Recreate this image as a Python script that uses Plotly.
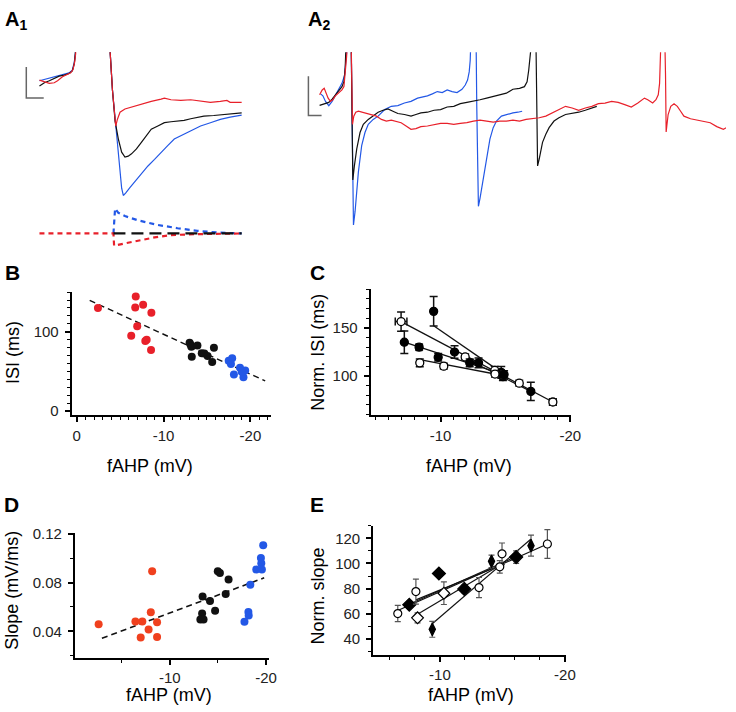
import plotly.graph_objects as go

W, H = 736, 712
FONT = "Liberation Sans, Arial, Helvetica, sans-serif"
RED, BLUE, BLACK = "#e8202a", "#2358e6", "#111111"
RED_D = "#f0401e"

# ---------------- Panel A1 traces (time ms, Vm mV) ----------------
a1_red_t = [12.0, 13.5, 15.0, 16.5, 17.5, 19.0, 20.5, 21.5, 22.2, 22.7, 23.0, 23.2, 30.0, 33.5, 34.2, 34.8, 35.2, 35.7, 36.5, 38.0, 40.0, 43.0, 46.0, 49.0, 50.0, 52.0, 55.0, 58.0, 61.0, 64.0, 67.0, 69.0, 70.0, 73.5]
a1_red_v = [-22.0, -22.6, -23.0, -22.8, -22.2, -21.0, -20.3, -19.8, -18.8, -16.5, -14.0, -10.0, -5.0, -13.5, -25.0, -33.0, -36.0, -34.0, -31.8, -30.8, -30.2, -29.5, -28.5, -27.8, -27.5, -28.0, -28.2, -28.0, -28.5, -28.8, -28.5, -28.2, -28.8, -28.8]
a1_blk_t = [12.0, 13.5, 15.0, 16.5, 18.0, 19.5, 21.0, 22.0, 22.6, 22.9, 23.1, 30.0, 33.5, 34.2, 35.0, 36.0, 37.0, 38.0, 39.0, 40.0, 41.5, 43.0, 44.5, 46.0, 48.0, 50.0, 52.0, 54.0, 56.0, 58.0, 60.0, 62.0, 65.0, 68.0, 71.0, 73.5]
a1_blk_v = [-23.8, -22.8, -22.2, -21.5, -20.8, -20.5, -20.0, -19.2, -17.0, -14.0, -10.0, -5.0, -13.5, -25.0, -34.5, -40.0, -44.0, -45.5, -45.2, -44.5, -43.0, -41.0, -39.0, -37.0, -36.0, -35.0, -34.7, -34.5, -34.3, -33.8, -33.5, -33.0, -32.8, -32.5, -32.2, -32.0]
a1_blu_t = [12.0, 13.5, 15.0, 16.5, 18.0, 19.5, 21.0, 22.0, 22.6, 22.9, 23.1, 30.0, 33.5, 34.2, 35.0, 35.8, 36.5, 37.0, 37.5, 38.2, 39.5, 41.0, 43.0, 45.0, 47.0, 49.0, 51.0, 53.0, 55.0, 58.0, 61.0, 64.0, 67.0, 70.0, 73.5]
a1_blu_v = [-22.2, -21.8, -21.5, -21.2, -20.6, -20.3, -19.8, -19.0, -16.5, -14.0, -10.0, -5.0, -13.5, -25.0, -34.0, -42.0, -50.0, -55.0, -57.2, -56.5, -54.8, -53.0, -50.5, -48.2, -46.2, -44.0, -42.0, -40.0, -39.0, -37.5, -36.0, -35.0, -34.0, -33.3, -32.7]
# modelled fAHP conductance changes (dashed)
a1_dred_t = [12.0, 34.5, 34.7, 38.0, 42.0, 47.0, 52.0, 60.0, 73.5]
a1_dred_v = [-68.8, -68.8, -72.5, -71.8, -71.0, -70.0, -69.3, -69.0, -68.8]
a1_dblu_t = [34.5, 35.0, 36.0, 38.0, 42.0, 48.0, 54.0, 60.0, 66.0, 73.5]
a1_dblu_v = [-68.8, -61.2, -62.5, -63.5, -64.8, -66.2, -67.2, -68.0, -68.5, -68.8]
a1_dblk_t = [34.5, 73.5]
a1_dblk_v = [-68.8, -68.8]
a1_bar_t = [8.0, 8.0, 13.3]
a1_bar_v = [-18.0, -27.5, -27.5]

# ---------------- Panel A2 traces ----------------
a2_blu_t = [7.5, 8.2, 9.0, 10.0, 11.0, 12.0, 13.0, 14.0, 14.8, 15.2, 15.4, 16.2, 16.8, 17.0, 17.3, 17.5, 18.0, 19.0, 20.0, 21.0, 22.0, 23.5, 25.0, 27.0, 29.0, 31.0, 33.0, 35.0, 37.0, 38.5, 40.0, 41.5, 43.0, 44.5, 46.0, 47.5, 49.0, 50.5, 51.5, 52.2, 52.7, 53.0, 53.2, 54.0, 54.8, 55.0, 55.3, 55.5, 56.0, 57.0, 58.0, 59.0, 60.0, 61.0, 62.5, 64.0, 66.0, 67.5, 68.8]
a2_blu_v = [-26.2, -26.8, -28.5, -29.8, -28.5, -26.5, -25.0, -23.0, -20.5, -16.0, -10.0, -5.0, -10.0, -30.0, -50.0, -66.2, -62.0, -50.0, -42.0, -38.0, -35.5, -34.0, -33.0, -31.0, -30.0, -29.8, -29.0, -28.5, -27.5, -27.2, -26.8, -26.2, -25.5, -25.8, -25.0, -25.5, -25.8, -24.8, -23.5, -22.0, -19.5, -16.0, -10.0, -5.0, -10.0, -30.0, -50.0, -60.5, -58.0, -52.0, -45.0, -40.0, -36.5, -34.5, -33.0, -32.5, -32.0, -31.8, -31.5]
a2_blk_t = [7.2, 8.0, 9.0, 10.0, 11.0, 12.0, 13.0, 14.0, 14.6, 15.0, 15.2, 16.0, 16.8, 17.0, 17.3, 17.8, 18.5, 19.5, 20.5, 22.0, 23.5, 25.0, 26.5, 28.0, 29.5, 31.0, 33.0, 35.0, 36.5, 38.0, 40.0, 42.0, 44.0, 46.0, 48.0, 50.0, 52.0, 54.0, 56.0, 58.0, 60.0, 62.0, 64.0, 66.0, 68.0, 69.5, 70.3, 70.8, 71.2, 71.5, 72.2, 73.0, 73.2, 73.5, 74.0, 75.0, 76.0, 77.0, 78.5, 80.0, 82.0, 84.0, 86.0, 88.0, 90.0, 91.5]
a2_blk_v = [-29.7, -29.5, -29.2, -28.8, -27.8, -26.5, -25.5, -24.0, -22.5, -18.0, -12.0, -5.0, -10.0, -30.0, -52.5, -48.0, -43.0, -38.0, -35.5, -34.0, -32.8, -31.8, -31.2, -30.8, -31.5, -32.2, -32.5, -33.0, -32.5, -32.0, -31.8, -31.2, -31.0, -30.2, -30.0, -29.2, -28.8, -28.5, -28.0, -27.5, -27.0, -26.5, -26.0, -24.8, -24.5, -24.0, -22.5, -19.0, -14.0, -10.0, -5.0, -10.0, -30.0, -48.2, -46.0, -41.0, -38.5, -36.5, -34.5, -33.5, -32.5, -32.2, -31.8, -31.2, -30.5, -30.0]
a2_red_t = [7.2, 8.0, 8.6, 9.2, 9.8, 10.5, 11.2, 12.0, 13.0, 14.0, 14.6, 15.0, 15.4, 15.7, 16.3, 16.8, 17.0, 17.2, 17.6, 18.2, 19.0, 20.0, 21.5, 23.0, 24.5, 26.0, 27.5, 29.0, 30.5, 32.0, 33.5, 35.0, 36.5, 38.0, 40.0, 42.0, 44.0, 46.0, 48.0, 50.0, 52.0, 54.0, 56.0, 58.0, 60.0, 62.0, 64.0, 66.0, 68.0, 70.0, 72.0, 74.0, 76.0, 78.0, 80.0, 82.0, 84.0, 86.0, 88.0, 90.0, 92.0, 94.0, 96.0, 98.0, 100.0, 102.0, 104.0, 106.0, 107.0, 108.5, 109.5, 110.2, 110.6, 110.8, 111.0, 111.6, 112.2, 112.4, 112.6, 112.8, 113.2, 114.0, 115.0, 116.0, 117.0, 118.0, 120.0, 122.0, 124.0, 126.0, 128.0, 130.0, 131.0]
a2_red_v = [-26.5, -25.0, -24.5, -26.0, -27.5, -28.5, -28.0, -26.8, -25.8, -25.0, -24.0, -20.5, -15.0, -10.0, -5.0, -10.0, -25.0, -35.5, -33.0, -31.8, -31.5, -31.8, -32.2, -32.5, -33.0, -34.0, -34.5, -34.2, -34.5, -35.0, -36.0, -37.0, -36.8, -36.2, -36.0, -35.5, -35.2, -35.2, -35.5, -35.2, -35.0, -34.5, -34.2, -34.5, -34.8, -34.5, -34.5, -34.2, -34.5, -34.0, -33.8, -33.5, -33.0, -32.0, -30.8, -30.0, -30.5, -31.2, -30.5, -30.0, -29.2, -29.0, -28.5, -28.8, -29.5, -30.2, -29.0, -27.5, -28.0, -29.0, -28.0, -26.5, -23.0, -14.0, -10.0, -5.0, -10.0, -20.0, -37.8, -36.0, -32.5, -30.0, -29.2, -30.0, -31.5, -33.0, -33.8, -34.2, -34.5, -35.0, -36.2, -37.0, -36.5]
a2_bar_t = [3.8, 3.8, 7.8]
a2_bar_v = [-20.8, -32.8, -32.8]

# ---------------- Panel B: ISI vs fAHP ----------------
b_red_x = [-2.45, -6.8, -6.74, -7.65, -8.6, -6.97, -6.28, -7.9, -8.06, -8.56]
b_red_y = [130, 144.6, 130.5, 134, 124, 107, 95, 88.4, 90, 77]
b_blk_x = [-13.0, -13.1, -13.2, -13.9, -13.25, -14.4, -14.7, -15.07, -15.8, -15.6]
b_blk_y = [86, 84, 81, 82.6, 68.5, 73, 72.7, 69.4, 80, 62]
b_blu_x = [-17.5, -17.9, -17.76, -18.1, -18.8, -19.4, -19.2, -19.0]
b_blu_y = [63.6, 66.5, 59.5, 46, 54.5, 51, 42.5, 49.5]
b_fit_x = [-1.5, -21.7]
b_fit_y = [139.6, 38.0]

# ---------------- Panel D: slope vs fAHP ----------------
d_red_x = [-2.6, -6.42, -7.14, -8.02, -8.67, -7.79, -6.97, -8.67, -8.16]
d_red_y = [0.0458, 0.0482, 0.0482, 0.0557, 0.0475, 0.0416, 0.035, 0.0355, 0.0893]
d_blk_x = [-13.4, -14.17, -13.35, -13.17, -13.5, -14.7, -14.98, -15.2, -16.1, -15.8]
d_blk_y = [0.0686, 0.0648, 0.0547, 0.0498, 0.0498, 0.0568, 0.0893, 0.0877, 0.0824, 0.0707]
d_blu_x = [-19.7, -19.46, -19.5, -18.98, -19.56, -18.36, -18.16, -18.19, -17.75]
d_blu_y = [0.1104, 0.100, 0.0958, 0.0906, 0.0906, 0.0782, 0.0558, 0.053, 0.0478]
d_fit_x = [-2.94, -19.8]
d_fit_y = [0.0344, 0.0838]

# ---------------- Panel C: normalised ISI, per cell ----------------
c_cells = [
    dict(x=[-6.96, -11.9, -14.18, -16.07, -18.66], y=[156.4, 119.7, 105.7, 92.5, 73.0],
         ey=[10, 3, 4, 3, 3], ex=[0.45, 0, 0, 0, 0.25], fx=[-6.96, -18.66], fy=[156.4, 73.0],
         sym="circle-open"),
    dict(x=[-9.47, -14.68], y=[167.0, 103.7], ey=[15.3, 6], ex=[0, 0],
         fx=[-9.47, -14.68], fy=[152.0, 103.7], sym="circle"),
    dict(x=[-7.21, -8.35, -9.82, -12.93, -14.81], y=[135.0, 129.9, 119.4, 113.6, 99.3],
         ey=[11.6, 3, 4, 5, 4], ex=[0, 0.2, 0, 0, 0], fx=[-7.21, -14.6], fy=[135.0, 102.6], sym="circle"),
    dict(x=[-8.4, -10.25, -14.2], y=[113.6, 110.2, 102.0], ey=[4, 3, 3], ex=[0, 0, 0],
         fx=[-8.4, -14.6], fy=[117.0, 101.0], sym="circle-open"),
    dict(x=[-11.08, -12.25, -14.9, -16.96], y=[124.8, 113.6, 101.5, 84.0], ey=[6.5, 4, 4, 9.4],
         ex=[0, 0, 0, 0], fx=[-12.25, -16.96], fy=[116.0, 84.0], sym="circle"),
]

# ---------------- Panel E: normalised slope, per cell ----------------
e_cells = [
    dict(x=[-6.63, -13.13, -14.97, -18.6], y=[60.1, 80.8, 107.7, 115.5], ey=[6.5, 8, 8.6, 11.5],
         fx=[-6.63, -18.6], fy=[62.5, 115.5], sym="circle-open", size=8),
    dict(x=[-7.55, -9.92, -11.95, -16.1], y=[67.1, 92.0, 79.7, 105.1], ey=[2, 2, 3, 5],
         fx=[-7.55, -16.1], fy=[67.5, 105.5], sym="diamond", size=10),
    dict(x=[-8.08, -14.79], y=[77.6, 97.3], ey=[10, 5],
         fx=[-8.08, -14.7], fy=[71.0, 98.0], sym="circle-open", size=8),
    dict(x=[-8.21, -10.32], y=[56.7, 76.3], ey=[4, 9],
         fx=[-8.21, -14.7], fy=[59.5, 98.0], sym="diamond-open", size=9),
    dict(x=[-9.39, -14.13, -17.29], y=[47.5, 101.7, 114.2], ey=[6.3, 5, 8.4],
         fx=[-9.39, -17.29], fy=[52.0, 119.5], sym="diamond-tall", size=9),
]


def dom_x(a, b):
    return [a / W, b / W]


def dom_y(top, bottom):
    return [1 - bottom / H, 1 - top / H]


fig = go.Figure()


def line(t, v, color, ax, width=1.2, dash=None):
    fig.add_trace(go.Scatter(x=t, y=v, mode="lines", xaxis="x" + ax, yaxis="y" + ax,
                             line=dict(color=color, width=width, dash=dash),
                             hoverinfo="skip", showlegend=False))


# A1
line(a1_bar_t, a1_bar_v, "#666666", "", 1.5)
line(a1_blu_t, a1_blu_v, BLUE, "")
line(a1_blk_t, a1_blk_v, BLACK, "")
line(a1_red_t, a1_red_v, RED, "")
line(a1_dblu_t, a1_dblu_v, BLUE, "", 2.2, "5px,4px")
line(a1_dred_t, a1_dred_v, RED, "", 2.2, "5px,4px")
line(a1_dblk_t, a1_dblk_v, BLACK, "", 2.2, "12px,6px")
# A2
line(a2_bar_t, a2_bar_v, "#666666", "2", 1.5)
line(a2_blu_t, a2_blu_v, BLUE, "2")
line(a2_blk_t, a2_blk_v, BLACK, "2")
line(a2_red_t, a2_red_v, RED, "2")


def dots(x, y, color, ax):
    fig.add_trace(go.Scatter(x=x, y=y, mode="markers", xaxis="x" + ax, yaxis="y" + ax,
                             marker=dict(color=color, size=8, line=dict(width=0)),
                             hoverinfo="skip", showlegend=False, cliponaxis=False))


# B
line(b_fit_x, b_fit_y, BLACK, "3", 1.4, "6px,4px")
dots(b_red_x, b_red_y, RED, "3")
dots(b_blk_x, b_blk_y, BLACK, "3")
dots(b_blu_x, b_blu_y, BLUE, "3")
# D
line(d_fit_x, d_fit_y, BLACK, "5", 1.6, "6px,4px")
dots(d_red_x, d_red_y, RED_D, "5")
dots(d_blk_x, d_blk_y, BLACK, "5")
dots(d_blu_x, d_blu_y, BLUE, "5")

# C
for c in c_cells:
    line(c["fx"], c["fy"], BLACK, "4", 1.3)
for c in c_cells:
    openm = "open" in c["sym"]
    fig.add_trace(go.Scatter(
        x=c["x"], y=c["y"], mode="markers", xaxis="x4", yaxis="y4",
        error_y=dict(type="data", array=c["ey"], color=BLACK, thickness=1.5, width=4),
        error_x=dict(type="data", array=c["ex"], color=BLACK, thickness=1.5, width=4),
        marker=dict(symbol=c["sym"].replace("-open", ""), size=8,
                    color="white" if openm else "black",
                    line=dict(color="black", width=1.3)),
        hoverinfo="skip", showlegend=False))
# E
for c in e_cells:
    line(c["fx"], c["fy"], BLACK, "6", 1.2)
for c in e_cells:
    openm = "open" in c["sym"]
    fig.add_trace(go.Scatter(
        x=c["x"], y=c["y"], mode="markers", xaxis="x6", yaxis="y6",
        error_y=dict(type="data", array=c["ey"], color="#555555", thickness=1.2, width=3),
        marker=dict(symbol=c["sym"].replace("-open", ""), size=c["size"],
                    color="white" if openm else "black",
                    line=dict(color="black", width=1.2)),
        hoverinfo="skip", showlegend=False))

hidden = dict(visible=False, fixedrange=True)
tickfont = dict(family=FONT, size=15, color="#222222")


def sci_axis(domain, rng, tickvals, minor_dtick, anchor, standoff=0):
    return dict(domain=domain, range=rng, showline=True, linewidth=2, linecolor="black",
                ticks="outside", ticklen=5, tickwidth=1.5, tickcolor="black",
                tickmode="array", tickvals=tickvals, ticktext=[("%g" % v) for v in tickvals],
                tickfont=tickfont,
                minor=dict(ticks="outside", ticklen=3, tickwidth=1.2, tickcolor="black",
                           dtick=minor_dtick, tick0=0, showgrid=False),
                showgrid=False, zeroline=False, anchor=anchor, ticklabelstandoff=standoff,
                fixedrange=True)


fig.update_layout(
    width=W, height=H, margin=dict(l=0, r=0, t=0, b=0),
    paper_bgcolor="white", plot_bgcolor="rgba(0,0,0,0)",
    font=dict(family=FONT, color="black"),
    xaxis=dict(domain=dom_x(0, 250), range=[0, 75], anchor="y", **hidden),
    yaxis=dict(domain=dom_y(45, 250), range=[-75, -13.5], anchor="x", **hidden),
    xaxis2=dict(domain=dom_x(300, 736), range=[0, 130.8], anchor="y2", **hidden),
    yaxis2=dict(domain=dom_y(45, 250), range=[-75, -13.5], anchor="x2", **hidden),
    xaxis3=sci_axis(dom_x(72.7, 275), [0.57, -22.4], [0, -10, -20], 1, "y3", 1),
    yaxis3=sci_axis(dom_y(289, 414), [-5, 150], [0, 100], 10, "x3", 3),
    xaxis4=sci_axis(dom_x(375.7, 578.5), [-4.61, -20.03], [-10, -20], 1, "y4", 1),
    yaxis4=sci_axis(dom_y(286, 414), [59.5, 190], [100, 150], 10, "x4", 3),
    xaxis5=sci_axis(dom_x(76, 272.7), [-0.14, -20.3], [-10, -20], 5, "y5", 0),
    yaxis5=sci_axis(dom_y(534, 660.7), [0.0186, 0.1205], [0.04, 0.08, 0.12], 0.02, "x5", 3),
    xaxis6=sci_axis(dom_x(378.3, 573.3), [-4.66, -20.05], [-10, -20], 2, "y6", 0),
    yaxis6=sci_axis(dom_y(526.7, 658.3), [26.9, 130], [40, 60, 80, 100, 120], 10, "x6", 3),
)
fig.layout.yaxis5.ticktext = ["0.04", "0.08", "0.12"]


def note(text, x, y, size=17, angle=0, bold=False, xanchor="center", yanchor="middle"):
    fig.add_annotation(text=("<b>%s</b>" % text) if bold else text, x=x / W, y=1 - y / H,
                       xref="paper", yref="paper", showarrow=False, textangle=angle,
                       xanchor=xanchor, yanchor=yanchor,
                       font=dict(family=FONT, size=size, color="black"))


# panel letters
note("A<sub>1</sub>", 3, 13, 20, bold=True, xanchor="left")
note("A<sub>2</sub>", 310, 13, 20, bold=True, xanchor="left")
note("B", 3, 269, 21, bold=True, xanchor="left")
note("C", 312, 269, 21, bold=True, xanchor="left")
note("D", 2, 505, 21, bold=True, xanchor="left")
note("E", 312, 505, 21, bold=True, xanchor="left")
# axis titles
note("ISI (ms)", 13, 350, 18, angle=-90)
note("fAHP (mV)", 152, 466, 18)
note("Norm. ISI (ms)", 322, 350, 18, angle=-90)
note("fAHP (mV)", 475, 466, 18)
note("Slope (mV/ms)", 12, 592, 18, angle=-90)
note("fAHP (mV)", 171, 699, 18)
note("Norm. slope", 322, 598, 18, angle=-90)
note("fAHP (mV)", 477, 699, 18)

fig.write_html("out.html", include_plotlyjs=True, config={"displayModeBar": False},
               post_script="document.body.style.margin='0';")
